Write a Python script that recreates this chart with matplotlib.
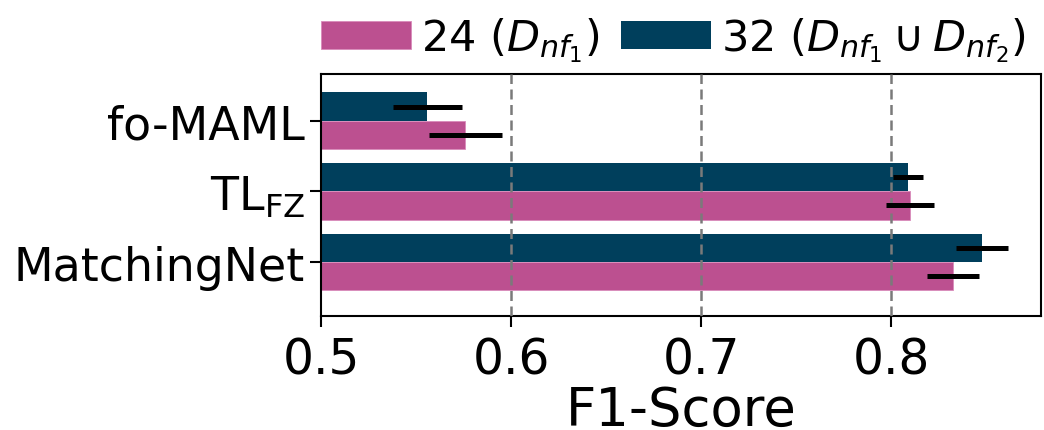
"""Horizontal bar chart of F1-Score per method for the two training-set sizes."""
import matplotlib
matplotlib.use("Agg")
import matplotlib.pyplot as plt
import numpy as np

methods = ['fo-MAML', r'TL$_{\mathrm{FZ}}$', 'MatchingNet']
series_labels = [r'24 ($D_{nf_1}$)', r'32 ($D_{nf_1} \cup D_{nf_2}$)']
f1_24 = [0.576, 0.810, 0.8325]
err_24 = [0.019, 0.0126, 0.0136]
f1_32 = [0.556, 0.809, 0.848]
err_32 = [0.018, 0.008, 0.0138]
x_ticks = [0.5, 0.6, 0.7, 0.8]


def main():
    """Draw the grouped horizontal bars with error bars and save out.png."""
    pink = '#bc5090'
    navy = '#003f5c'
    bar_h = 0.4
    pos = np.arange(len(methods))

    fig = plt.figure(figsize=(10.44, 4.31), dpi=100)
    ax = fig.add_axes([0.3075, 0.2645, 0.6897, 0.5615])

    # 32-sample bars sit above the 24-sample bars in each group
    ax.barh(pos - bar_h / 2, f1_32, height=bar_h, color=navy,
            label=series_labels[1], zorder=1)
    ax.barh(pos + bar_h / 2, f1_24, height=bar_h, color=pink,
            edgecolor='#d98bbb', linewidth=0.6,
            label=series_labels[0], zorder=1)
    ax.errorbar(f1_32, pos - bar_h / 2, xerr=err_32, fmt='none',
                ecolor='black', elinewidth=3.6, capsize=0, zorder=4)
    ax.errorbar(f1_24, pos + bar_h / 2, xerr=err_24, fmt='none',
                ecolor='black', elinewidth=3.6, capsize=0, zorder=4)

    for xv in x_ticks[1:]:
        ax.axvline(xv, color='#7a7a7a', linestyle=(0, (4, 2.2)),
                   linewidth=1.8, zorder=3)

    ax.set_xlim(0.5, 0.879)
    ax.set_ylim(2.764, -0.661)
    ax.set_xticks(x_ticks)
    ax.set_xticklabels([str(v) for v in x_ticks])
    ax.set_yticks(pos)
    ax.set_yticklabels(methods)
    ax.tick_params(axis='both', length=8, width=1.5, color='black')
    ax.tick_params(axis='y', labelsize=33)
    ax.tick_params(axis='x', labelsize=35, pad=6)
    ax.set_xlabel('F1-Score', fontsize=38, labelpad=0)
    for spine in ax.spines.values():
        spine.set_linewidth(1.5)

    handles, labels = ax.get_legend_handles_labels()
    ax.legend(handles[::-1], labels[::-1], loc='lower left',
              bbox_to_anchor=(0.0, 1.04), ncol=2, frameon=False,
              fontsize=31, borderaxespad=0.0, borderpad=0.0,
              handlelength=2.1, handleheight=0.62, handletextpad=0.22,
              columnspacing=0.5)

    fig.savefig('out.png', dpi=100)


if __name__ == '__main__':
    main()
